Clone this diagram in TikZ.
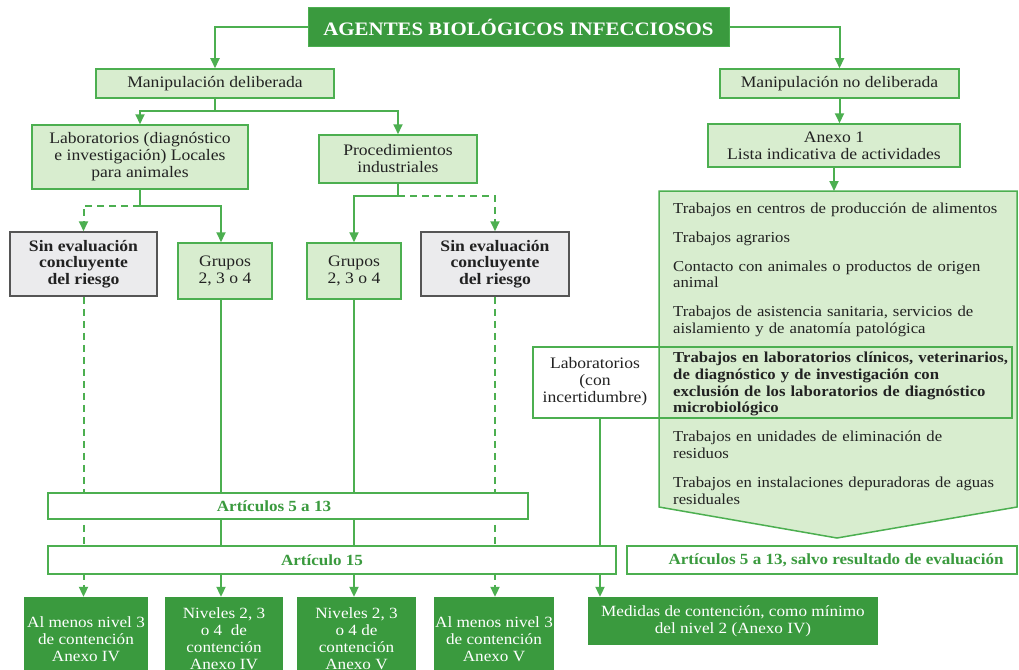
\documentclass[tikz,border=0pt]{standalone}
\usepackage{fontspec}
\setmainfont{Liberation Serif}[FakeStretch=1.1]
\usetikzlibrary{arrows.meta}
\definecolor{dkg}{HTML}{3A9A3E}
\definecolor{lg}{HTML}{D8EDCF}
\definecolor{lng}{HTML}{4CAF50}
\definecolor{gfill}{HTML}{EBEBED}
\definecolor{gline}{HTML}{555555}
\definecolor{txt}{HTML}{222222}
\begin{document}
\begin{tikzpicture}[x=1pt,y=-1pt,
  every node/.style={font=\fontsize{16}{17}\selectfont, text=txt, inner sep=0pt, align=center},
  lbox/.style={draw=lng, line width=1.5pt, fill=lg},
  gbox/.style={draw=gline, line width=1.5pt, fill=gfill, font=\fontsize{16}{16.7}\selectfont\bfseries},
  dbox/.style={fill=dkg, text=white, font=\fontsize{15.6}{17}\selectfont},
  abox/.style={draw=lng, line width=1.5pt, fill=white, text=dkg, font=\fontsize{15.5}{16}\selectfont\bfseries},
  arr/.style={draw=lng, line width=2pt, -{Triangle[length=10pt,width=9pt]}},
  dsh/.style={dash pattern=on 7pt off 5pt}
]
\useasboundingbox (0,0) rectangle (1019,669);
\clip (0,0) rectangle (1019,669);
\fill[white] (0,0) rectangle (1019,669);

% top level
\node[fill=dkg, draw=lng, line width=1pt, text=white, font=\fontsize{19}{20}\selectfont\bfseries,
      minimum width=421pt, minimum height=39pt] (title) at (518.5,27.5) {AGENTES BIOLÓGICOS INFECCIOSOS};
\node[lbox, minimum width=238pt, minimum height=29pt] (md) at (215,83.5) {Manipulación deliberada};
\node[lbox, minimum width=239pt, minimum height=29pt] (mnd) at (839.5,83.5) {Manipulación no deliberada};

\node[lbox, minimum width=216pt, minimum height=64pt] (lab) at (140,157) {Laboratorios (diagnóstico\\e investigación) Locales\\para animales};
\node[lbox, minimum width=158pt, minimum height=48pt] (proc) at (398,159) {Procedimientos\\industriales};
\node[lbox, minimum width=252pt, minimum height=43pt] (anexo) at (834,145.5) {Anexo 1\\Lista indicativa de actividades};

\node[gbox, minimum width=147pt, minimum height=64pt] (sin1) at (83.5,264) {Sin evaluación\\concluyente\\del riesgo};
\node[lbox, minimum width=94pt, minimum height=56pt] (grp1) at (225,271) {Grupos\\2, 3 o 4};
\node[lbox, minimum width=94pt, minimum height=56pt] (grp2) at (354,271) {Grupos\\2, 3 o 4};
\node[gbox, minimum width=148pt, minimum height=64pt] (sin2) at (495,264) {Sin evaluación\\concluyente\\del riesgo};

% big list box
\coordinate (bigtop) at (837,191);
\draw[lbox] (659,191) -- (1017,191) -- (1017,507) -- (837,538) -- (659,507) -- cycle;
\node[draw=lng, line width=1.5pt, minimum width=479pt, minimum height=71pt] (labinc) at (772.5,382.5) {};
\node[anchor=north west, align=left, text width=400pt, font=\fontsize{15.2}{16.7}\selectfont] (list) at (673,202.5) {%
Trabajos en centros de producción de alimentos\\[12.3pt]
Trabajos agrarios\\[12.3pt]
Contacto con animales o productos de origen\\animal\\[12.3pt]
Trabajos de asistencia sanitaria, servicios de\\aislamiento y de anatomía patológica\\[12.3pt]
\textbf{Trabajos en laboratorios clínicos, veterinarios,}\\\textbf{de diagnóstico y de investigación con}\\\textbf{exclusión de los laboratorios de diagnóstico}\\\textbf{microbiológico}\\[12.3pt]
Trabajos en unidades de eliminación de\\residuos\\[12.3pt]
Trabajos en instalaciones depuradoras de aguas\\residuales};
\node (labinctxt) at (595,382) {Laboratorios\\(con\\incertidumbre)};

% bottom boxes
\node[dbox, minimum width=124pt, minimum height=84pt] (b1) at (86,639) {Al menos nivel 3\\de contención\\Anexo IV};
\node[dbox, minimum width=118pt, minimum height=84pt] (b2) at (224,639) {Niveles 2, 3\\o 4~ de\\contención\\Anexo IV};
\node[dbox, minimum width=119pt, minimum height=84pt] (b3) at (356.5,639) {Niveles 2, 3\\o 4 de\\contención\\Anexo V};
\node[dbox, minimum width=120pt, minimum height=84pt] (b4) at (494,639) {Al menos nivel 3\\de contención\\Anexo V};
\node[dbox, minimum width=290pt, minimum height=48pt] (b5) at (733,621) {Medidas de contención, como mínimo\\del nivel 2 (Anexo IV)};

% connectors
\coordinate (g1x) at (221,0);
\coordinate (lx) at (600,0);
\draw[arr] (title.west) -| (md.north);
\draw[arr] (title.east) -| (mnd.north);
\draw[arr] (md.south) -- ++(0,12) -| (lab.north);
\draw[arr] (md.south) -- ++(0,12) -| (proc.north);
\draw[arr] (mnd.south) -- (mnd.south |- anexo.north);
\draw[arr] (anexo.south) -- (anexo.south |- bigtop);
\draw[arr] (lab.south) -- ++(0,16) -| (grp1.north -| g1x);
\draw[arr, dsh] (lab.south) ++(0,16) -| (sin1.north);
\draw[arr] (proc.south) -- ++(0,12) -| (grp2.north);
\draw[arr, dsh] (proc.south) ++(0,12) -| (sin2.north);
\draw[arr, dsh] (sin1.south) -- (sin1.south |- b1.north);
\draw[arr] (grp1.south -| g1x) -- (b2.north -| g1x);
\draw[arr] (grp2.south) -- (grp2.south |- b3.north);
\draw[arr, dsh] (sin2.south) -- (sin2.south |- b4.north);
\draw[arr] (labinc.south -| lx) -- (b5.north -| lx);

% article bars
\node[abox, minimum width=480pt, minimum height=26pt] (a513) at (288,506) {\hspace*{-28pt}Artículos 5 a 13};
\node[abox, minimum width=568pt, minimum height=28pt] (a15) at (332,560) {\hspace*{-20pt}Artículo 15};
\node[abox, minimum width=390pt, minimum height=28pt] (asalvo) at (822,560) {\hspace*{28pt}Artículos 5 a 13, salvo resultado de evaluación};
\end{tikzpicture}
\end{document}
